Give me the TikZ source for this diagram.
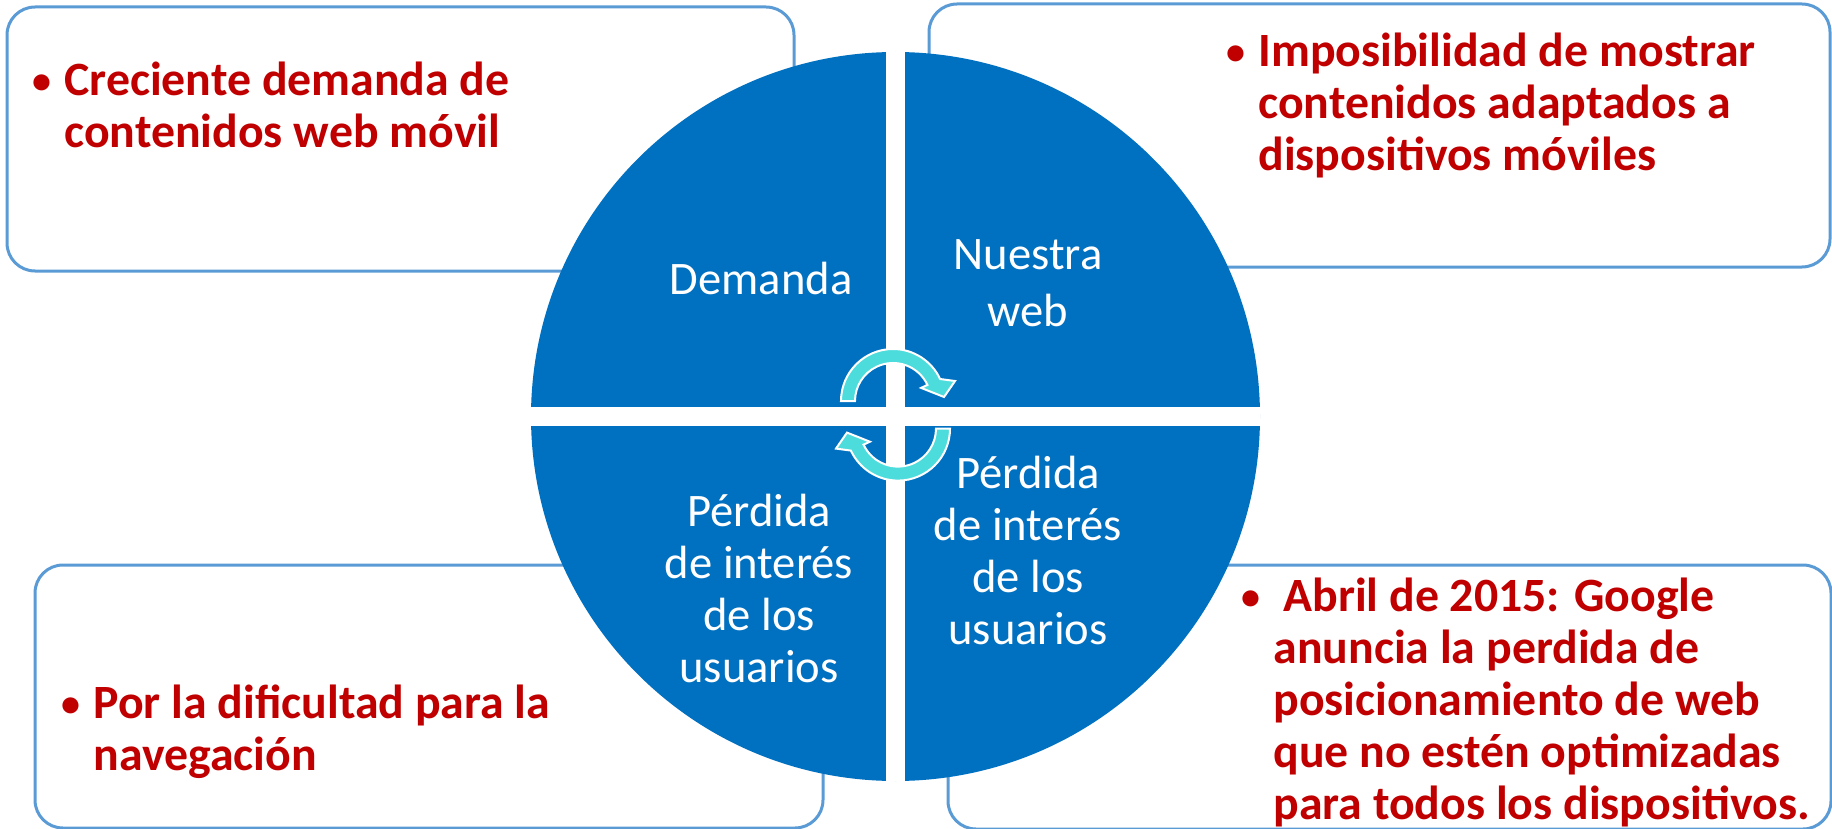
\documentclass[tikz,border=0pt]{standalone}
\usepackage{fontspec}
\setmainfont{Carlito}
\usetikzlibrary{calc}
\definecolor{boxline}{HTML}{5B9BD5}
\definecolor{circblue}{HTML}{0070C0}
\definecolor{txtred}{HTML}{C00000}
\definecolor{arrcyan}{HTML}{4CDCDC}
\tikzset{
  infobox/.style={draw=boxline, line width=1.5pt, fill=white, rounded corners=14pt, inner sep=0pt, outer sep=0pt, rectangle},
  redtxt/.style={text=txtred, font=\fontsize{23.9pt}{26pt}\selectfont\bfseries, inner sep=0pt, anchor=base west},
  whitetxt/.style={text=white, font=\fontsize{23.3pt}{26pt}\selectfont, inner sep=0pt, anchor=base},
  cyclearrow/.style={fill=arrcyan, draw=white, line width=1pt, line join=miter}
}
\newcommand{\bul}{\makebox[16pt][l]{\raisebox{1pt}{\fontsize{19pt}{19pt}\selectfont •}}}
\begin{document}
\begin{tikzpicture}[x=0.5pt,y=-0.5pt]
\useasboundingbox (0,0) rectangle (1832,829);
% boxes
\node[infobox, minimum width=393.5pt, minimum height=132pt] (tlbox) at (400.5,139) {};
\node[infobox, minimum width=450.5pt, minimum height=131.5pt] (trbox) at (1379.5,135.5) {};
\node[infobox, minimum width=394pt, minimum height=131.5pt] (blbox) at (429,696.5) {};
\node[infobox, minimum width=441.5pt, minimum height=132pt] (brbox) at (1389.5,697) {};
% circle
\node[circle, fill=circblue, minimum size=364.5pt, inner sep=0pt] (cir) at (895.5,416.5) {};
\begin{scope}
  \clip (895.5,416.5) circle [radius=182.5pt];
  \fill[white] (886,0) rectangle (905,829);
  \fill[white] (0,407) rectangle (1832,426);
\end{scope}
% cycle arrows
\coordinate (T) at (893,401);
\fill[cyclearrow] ($(T)+(180:52)$) arc[start angle=180, end angle=335, radius=52] -- (955,381) -- (944,397) -- ($(T)+(335:31)$) -- ($(T)+(335:38)$) arc[start angle=335, end angle=180, radius=38] -- cycle;
\begin{scope}[rotate around={180:(895.5,414.8)}]
\coordinate (B) at (893,401);
\fill[cyclearrow] ($(B)+(180:52)$) arc[start angle=180, end angle=335, radius=52] -- (955,381) -- (944,397) -- ($(B)+(335:31)$) -- ($(B)+(335:38)$) arc[start angle=335, end angle=180, radius=38] -- cycle;
\end{scope}
% quadrant labels
\node[whitetxt] (qtl) at (761,294) {Demanda};
\node[whitetxt] (qtr) at (1028,269) {\begin{tabular}[t]{@{}c@{}}Nuestra\\[2.5pt]web\end{tabular}};
\node[whitetxt] (qbl) at (759,526) {\begin{tabular}[t]{@{}c@{}}Pérdida\\de interés\\de los\\usuarios\end{tabular}};
\node[whitetxt] (qbr) at (1028,488) {\begin{tabular}[t]{@{}c@{}}Pérdida\\de interés\\de los\\usuarios\end{tabular}};
% red texts
\node[redtxt] (ttl) at (32,96) {\begin{tabular}[t]{@{}l@{}l@{}}\bul&Creciente demanda de\\&contenidos web móvil\end{tabular}};
\node[redtxt] (ttr) at (1226,67) {\begin{tabular}[t]{@{}l@{}l@{}}\bul&Imposibilidad de mostrar\\&contenidos adaptados a\\&dispositivos móviles\end{tabular}};
\node[redtxt] (tbl) at (61,718) {\begin{tabular}[t]{@{}l@{}l@{}}\bul&Por la dificultad para la\\&navegación\end{tabular}};
\node[redtxt] (tbr) at (1241,611) {\begin{tabular}[t]{@{}l@{}l@{}}\bul&\hspace{5pt}Abril de 2015: Google\\&anuncia la perdida de\\&posicionamiento de web\\&que no estén optimizadas\\&para todos los dispositivos.\end{tabular}};
\end{tikzpicture}
\end{document}
